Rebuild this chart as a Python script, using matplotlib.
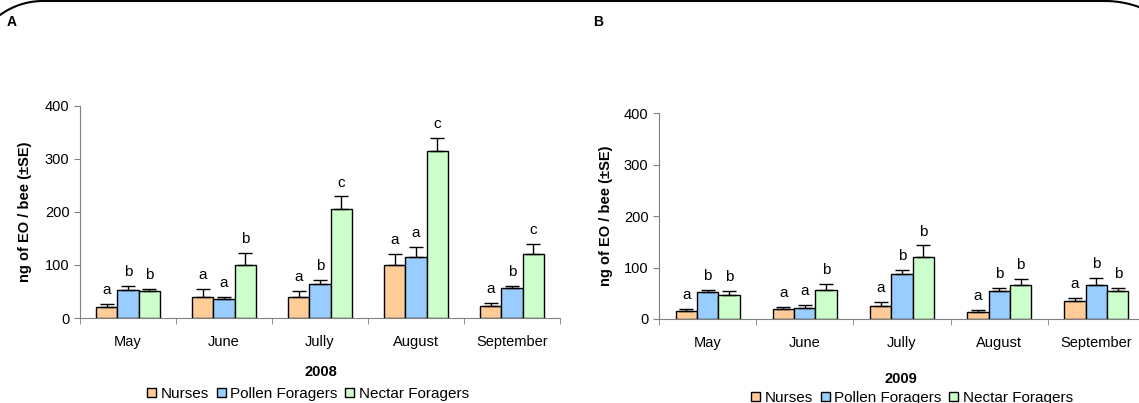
import numpy as np
import matplotlib
matplotlib.use("Agg")
import matplotlib.pyplot as plt
from matplotlib.patches import Patch
from matplotlib.lines import Line2D
from matplotlib.transforms import IdentityTransform

plt.rcParams['font.family'] = ['Liberation Sans', 'DejaVu Sans']

months = ["May", "June", "Jully", "August", "September"]
groups = ["Nurses", "Pollen Foragers", "Nectar Foragers"]
colors = ["#FFCC99", "#99CCFF", "#CCFFCC"]

# 2008 means, SE, letters
nurses_08 = [20, 40, 40, 100, 22]
pollen_08 = [53, 36, 65, 114, 56]
nectar_08 = [50, 100, 205, 314, 120]
nurses_08_se = [6, 14, 11, 20, 6]
pollen_08_se = [7, 3, 6, 20, 4]
nectar_08_se = [5, 23, 24, 25, 19]
letters_08 = [["a", "a", "a", "a", "a"],
              ["b", "a", "b", "a", "b"],
              ["b", "b", "c", "c", "c"]]

# 2009
nurses_09 = [15, 20, 25, 14, 35]
pollen_09 = [52, 22, 88, 55, 66]
nectar_09 = [46, 57, 120, 66, 55]
nurses_09_se = [5, 3, 9, 3, 5]
pollen_09_se = [5, 6, 8, 5, 14]
nectar_09_se = [9, 12, 23, 12, 5]
letters_09 = [["a", "a", "a", "a", "a"],
              ["b", "a", "b", "b", "b"],
              ["b", "b", "b", "b", "b"]]

W, H = 1139, 403
fig = plt.figure(figsize=(W / 100, H / 100), dpi=100)


def panel(rect, means, errs, letters, year, year_xy, leg_xy, lpad):
    ax = fig.add_axes(rect)
    x = np.arange(len(months))
    bw = 0.22
    for i, (m, e, c) in enumerate(zip(means, errs, colors)):
        xs = x + (i - 1) * bw
        ax.bar(xs, m, bw, color=c, edgecolor="black", linewidth=1, zorder=2)
        ax.errorbar(xs, m, yerr=[np.zeros(len(e)), e], fmt="none",
                    ecolor="black", elinewidth=1, capsize=5, capthick=1, zorder=3)
        for xi, mi, ei, lt in zip(xs, m, e, letters[i]):
            ax.annotate(lt, (xi, mi + ei), xytext=(0, 5), textcoords="offset points",
                        ha="center", va="bottom", fontsize=11)
    ax.set_xlim(-0.5, 4.5)
    ax.set_ylim(0, 400)
    ax.set_yticks([0, 100, 200, 300, 400])
    ax.set_xticks(x)
    ax.set_xticklabels(months, fontsize=10.5)
    ax.set_xticks(np.arange(-0.5, 5.0, 1.0), minor=True)
    ax.tick_params(axis="x", which="major", length=0, pad=12)
    ax.tick_params(axis="x", which="minor", length=4, direction="out", color="#808080")
    ax.tick_params(axis="y", length=4, direction="out", color="#808080", labelsize=10.5)
    for s in ["top", "right"]:
        ax.spines[s].set_visible(False)
    for s in ["left", "bottom"]:
        ax.spines[s].set_color("#808080")
    ax.set_ylabel("ng of EO / bee (\u00b1SE)", fontsize=10.5, fontweight="bold", labelpad=lpad)
    fig.text(year_xy[0] / W, 1 - year_xy[1] / H, year, ha="center", va="center",
             fontsize=10.5, fontweight="bold")
    handles = [Patch(facecolor=c, edgecolor="black", linewidth=1) for c in colors]
    fig.legend(handles, groups, loc="center", ncol=3, frameon=False,
               bbox_to_anchor=(leg_xy[0] / W, 1 - leg_xy[1] / H),
               handlelength=0.6, handleheight=0.6, handletextpad=0.3,
               columnspacing=0.5, fontsize=11, borderpad=0)
    return ax


panel([80 / W, 85 / H, 480 / W, 212.3 / H],
      [nurses_08, pollen_08, nectar_08], [nurses_08_se, pollen_08_se, nectar_08_se],
      letters_08, "2008", (321, 372), (308, 394), 9)
panel([659 / W, 84 / H, 486 / W, 205.7 / H],
      [nurses_09, pollen_09, nectar_09], [nurses_09_se, pollen_09_se, nectar_09_se],
      letters_09, "2009", (901, 379), (912, 398), 8)

fig.text(12 / W, 1 - 22 / H, "A", ha="center", va="center", fontsize=10, fontweight="bold")
fig.text(598 / W, 1 - 22 / H, "B", ha="center", va="center", fontsize=10, fontweight="bold")

# frame: top edge with rounded corners (pixel coords, y from top)
t1 = np.linspace(np.pi, np.pi / 2, 40)
t2 = np.linspace(np.pi / 2, 0, 40)
fx = np.concatenate([43 + 73 * np.cos(t1), 1105 + 99 * np.cos(t2)])
fy = np.concatenate([74 - 73 * np.sin(t1), 100 - 99 * np.sin(t2)])
fig.add_artist(Line2D(fx, H - fy, transform=IdentityTransform(),
                      color="black", linewidth=1.5))

fig.savefig("out.png", dpi=100)
